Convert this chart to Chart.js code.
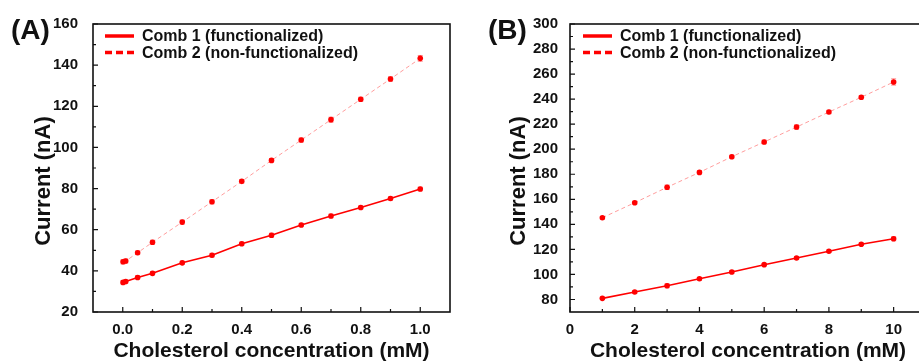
<!DOCTYPE html>
<html>
<head>
<meta charset="utf-8">
<script src="https://cdn.jsdelivr.net/npm/chart.js@4.4.1/dist/chart.umd.min.js"></script>
<style>
  html, body { margin: 0; padding: 0; background: #fff; overflow: hidden; }
  #panelA { position: absolute; left: 0; top: 0; }
  #panelB { position: absolute; left: 460px; top: 0; }
</style>
</head>
<body>
<canvas id="panelA" width="460" height="363"></canvas>
<canvas id="panelB" width="470" height="363"></canvas>
<script>
// (A) low concentration range
const concA = [0.001, 0.01, 0.05, 0.1, 0.2, 0.3, 0.4, 0.5, 0.6, 0.7, 0.8, 0.9, 1.0];
const comb1A = [34.4, 34.8, 36.8, 38.8, 43.9, 47.6, 53.2, 57.3, 62.3, 66.7, 70.8, 75.2, 79.8];
const comb1ErrA = [0.8, 0.8, 0.9, 0.8, 0.8, 0.9, 0.8, 1.0, 0.8, 0.9, 0.8, 0.8, 0.9];
const comb2A = [44.4, 44.8, 48.8, 53.9, 63.7, 73.6, 83.5, 93.7, 103.6, 113.5, 123.4, 133.3, 143.3];
const comb2ErrA = [1.0, 1.0, 0.9, 1.0, 1.0, 1.0, 0.9, 0.9, 1.0, 1.2, 1.0, 1.1, 1.4];
const xTicksA = [0, 0.2, 0.4, 0.6, 0.8, 1.0];
const yTicksA = [20, 40, 60, 80, 100, 120, 140, 160];

// (B) high concentration range
const concB = [1, 2, 3, 4, 5, 6, 7, 8, 9, 10];
const comb1B = [80.9, 86.0, 91.0, 96.6, 101.9, 107.8, 113.1, 118.5, 124.1, 128.5];
const comb1ErrB = [1.0, 1.0, 1.6, 1.0, 1.2, 1.0, 1.0, 1.0, 1.0, 1.6];
const comb2B = [145.3, 157.3, 169.6, 181.5, 194.0, 205.8, 217.7, 229.7, 241.5, 253.7];
const comb2ErrB = [1.0, 1.2, 1.8, 1.4, 1.2, 1.5, 1.8, 1.4, 1.4, 2.5];
const xTicksB = [0, 2, 4, 6, 8, 10];
const yTicksB = [80, 100, 120, 140, 160, 180, 200, 220, 240, 260, 280, 300];

const seriesNames = ['Comb 1 (functionalized)', 'Comb 2 (non-functionalized)'];
const xTitle = 'Cholesterol concentration (mM)';
const yTitle = 'Current (nA)';

const RED = '#ff0000';
const INK = '#111';
const FONT = "'Liberation Sans', Arial, sans-serif";
Chart.defaults.font.family = FONT;

function points(xs, ys) {
    return xs.map((x, i) => ({ x: x, y: ys[i] }));
}

const errorBars = {
    id: 'errorBars',
    beforeDatasetsDraw(chart) {
        const ctx = chart.ctx;
        const xs = chart.scales.x, ys = chart.scales.y;
        ctx.save();
        ctx.strokeStyle = 'rgba(255, 0, 0, 0.45)';
        ctx.lineWidth = 1;
        chart.data.datasets.forEach(ds => {
            ds.data.forEach((p, i) => {
                const e = ds.errors[i];
                const px = xs.getPixelForValue(p.x);
                const top = ys.getPixelForValue(p.y + e);
                const bot = ys.getPixelForValue(p.y - e);
                ctx.beginPath();
                ctx.moveTo(px, top); ctx.lineTo(px, bot);
                ctx.moveTo(px - 2.5, top); ctx.lineTo(px + 2.5, top);
                ctx.moveTo(px - 2.5, bot); ctx.lineTo(px + 2.5, bot);
                ctx.stroke();
            });
        });
        ctx.restore();
    }
};

function midpoints(t) {
    let out = [];
    for (let i = 0; i < t.length - 1; i++) out.push((t[i] + t[i + 1]) / 2);
    return out;
}

const frame = {
    id: 'frame',
    afterDraw(chart, args, opts) {
        const ctx = chart.ctx;
        const a = chart.chartArea;
        const xs = chart.scales.x, ys = chart.scales.y;
        ctx.save();
        ctx.strokeStyle = INK;
        ctx.lineWidth = 1.6;
        ctx.strokeRect(a.left, a.top, a.right - a.left, a.bottom - a.top);

        // inward tick marks
        ctx.lineWidth = 1.2;
        ctx.beginPath();
        opts.yTicks.forEach(v => {
            const py = ys.getPixelForValue(v);
            ctx.moveTo(a.left, py); ctx.lineTo(a.left + 5, py);
        });
        midpoints(opts.yTicks).forEach(v => {
            const py = ys.getPixelForValue(v);
            ctx.moveTo(a.left, py); ctx.lineTo(a.left + 3, py);
        });
        opts.xTicks.forEach(v => {
            const px = xs.getPixelForValue(v);
            ctx.moveTo(px, a.bottom); ctx.lineTo(px, a.bottom - 5);
        });
        midpoints(opts.xTicks).forEach(v => {
            const px = xs.getPixelForValue(v);
            ctx.moveTo(px, a.bottom); ctx.lineTo(px, a.bottom - 3);
        });
        ctx.stroke();

        // axis titles
        ctx.fillStyle = INK;
        ctx.font = 'bold 21px ' + FONT;
        ctx.textAlign = 'center';
        ctx.textBaseline = 'middle';
        ctx.fillText(xTitle, (a.left + a.right) / 2, 351);
        ctx.save();
        ctx.translate(opts.yTitleX, 181);
        ctx.rotate(-Math.PI / 2);
        ctx.font = 'bold 22px ' + FONT;
        ctx.fillText(yTitle, 0, 0);
        ctx.restore();

        // panel label
        ctx.font = 'bold 28px ' + FONT;
        ctx.textAlign = 'left';
        ctx.textBaseline = 'alphabetic';
        ctx.fillText(opts.label, opts.labelX, 39);

        // legend
        ctx.font = 'bold 16px ' + FONT;
        ctx.textBaseline = 'middle';
        const lx = opts.legendX;
        [36, 52.5].forEach((ly, i) => {
            ctx.strokeStyle = RED;
            ctx.lineWidth = 3.5;
            ctx.setLineDash(i === 0 ? [] : [7, 4]);
            ctx.beginPath();
            ctx.moveTo(lx, ly); ctx.lineTo(lx + 29, ly);
            ctx.stroke();
            ctx.setLineDash([]);
            ctx.fillText(seriesNames[i], lx + 37, ly + 1);
        });
        ctx.restore();
    }
};

function makePanel(id, cfg) {
    const ctx = document.getElementById(id).getContext('2d');
    return new Chart(ctx, {
        type: 'scatter',
        data: {
            datasets: [{
                label: seriesNames[0],
                data: points(cfg.conc, cfg.comb1),
                errors: cfg.err1,
                showLine: true,
                borderColor: RED,
                borderWidth: 1.6,
                pointRadius: 2.8,
                pointBorderWidth: 0,
                pointBackgroundColor: RED
            }, {
                label: seriesNames[1],
                data: points(cfg.conc, cfg.comb2),
                errors: cfg.err2,
                showLine: true,
                borderColor: 'rgba(255, 60, 60, 0.5)',
                borderWidth: 1,
                borderDash: [4, 3],
                pointRadius: 2.8,
                pointBorderWidth: 0,
                pointBackgroundColor: RED
            }]
        },
        options: {
            responsive: false,
            animation: false,
            events: [],
            layout: { padding: { top: 24, right: cfg.padRight, left: 0, bottom: 0 } },
            plugins: {
                legend: { display: false },
                tooltip: { enabled: false },
                frame: {
                    xTicks: cfg.xTicks, yTicks: cfg.yTicks,
                    yTitleX: cfg.yTitleX, label: cfg.label, labelX: cfg.labelX,
                    legendX: cfg.legendX
                }
            },
            scales: {
                x: {
                    type: 'linear',
                    min: cfg.xMin, max: cfg.xMax,
                    grid: { display: false },
                    border: { display: false },
                    ticks: {
                        autoSkip: false, maxRotation: 0, padding: 1, color: INK,
                        font: { size: 15, weight: 'bold' },
                        callback: cfg.xFmt
                    },
                    afterBuildTicks: s => { s.ticks = cfg.xTicks.map(v => ({ value: v })); },
                    afterFit: s => { s.height = 51; }
                },
                y: {
                    min: cfg.yMin, max: cfg.yMax,
                    grid: { display: false },
                    border: { display: false },
                    ticks: {
                        autoSkip: false, padding: cfg.yPad, color: INK,
                        font: { size: 15, weight: 'bold' }
                    },
                    afterBuildTicks: s => { s.ticks = cfg.yTicks.map(v => ({ value: v })); },
                    afterFit: s => { s.width = cfg.yWidth; }
                }
            }
        },
        plugins: [errorBars, frame]
    });
}

makePanel('panelA', {
    conc: concA, comb1: comb1A, err1: comb1ErrA, comb2: comb2A, err2: comb2ErrA,
    xTicks: xTicksA, yTicks: yTicksA,
    xMin: -0.1, xMax: 1.1, yMin: 20, yMax: 160,
    xFmt: v => v.toFixed(1),
    yWidth: 93, yPad: 7, padRight: 10,
    yTitleX: 44, label: '(A)', labelX: 11, legendX: 105
});

makePanel('panelB', {
    conc: concB, comb1: comb1B, err1: comb1ErrB, comb2: comb2B, err2: comb2ErrB,
    xTicks: xTicksB, yTicks: yTicksB,
    xMin: 0, xMax: 11, yMin: 70, yMax: 300,
    xFmt: v => String(v),
    yWidth: 110, yPad: 4, padRight: 2.5,
    yTitleX: 59, label: '(B)', labelX: 28, legendX: 123
});
</script>
</body>
</html>
